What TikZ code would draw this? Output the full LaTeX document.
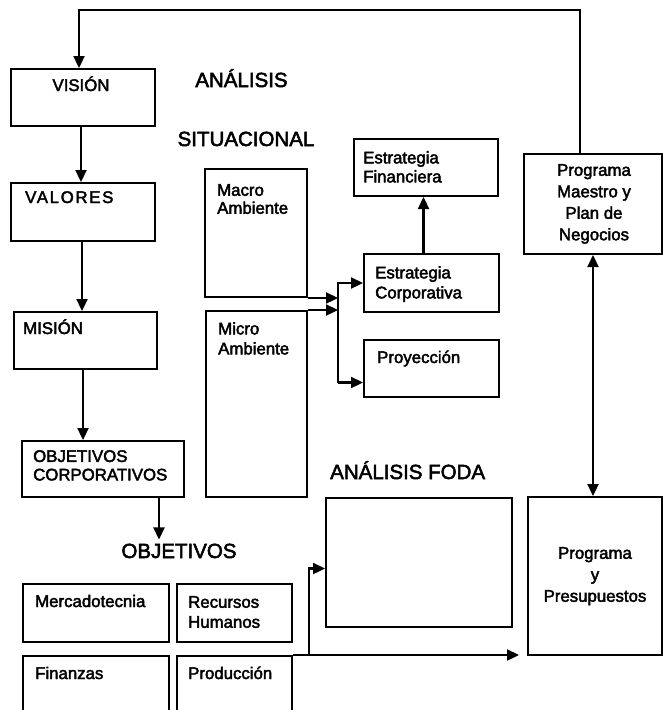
\documentclass[tikz,border=0pt]{standalone}
\usepackage{fontspec}
\setmainfont{Liberation Sans}[FakeBold=2.5]
\usetikzlibrary{arrows.meta,calc}
\begin{document}
\begin{tikzpicture}[x=1pt,y=-1pt,
  box/.style={draw, line width=2pt, rectangle, inner sep=0pt, anchor=north west},
  txt/.style={font=\fontsize{16.8}{19}\selectfont, inner sep=0pt},
  hd/.style={font=\fontsize{20.5}{24}\selectfont, inner sep=0pt},
  arr/.style={line width=2.3pt, -{Triangle[length=12pt,width=11pt]}},
  darr/.style={line width=2.3pt, {Triangle[length=12pt,width=11pt]}-{Triangle[length=12pt,width=11pt]}},
  ln/.style={line width=2.3pt}]
\useasboundingbox (0,0) rectangle (662,710);
% boxes
\node[box, minimum width=144pt, minimum height=57pt] (vision) at (10,68) {};
\node[box, minimum width=144pt, minimum height=58pt] (valores) at (10,182) {};
\node[box, minimum width=143pt, minimum height=57pt] (mision) at (13,311) {};
\node[box, minimum width=162pt, minimum height=56pt] (objcorp) at (21,440) {};
\node[box, minimum width=102pt, minimum height=128pt] (macro) at (204,168) {};
\node[box, minimum width=101pt, minimum height=186pt] (micro) at (205,310) {};
\node[box, minimum width=144pt, minimum height=57pt] (estfin) at (353,138) {};
\node[box, minimum width=135pt, minimum height=58pt] (estcorp) at (363,253) {};
\node[box, minimum width=135pt, minimum height=57pt] (proy) at (363,339) {};
\node[box, minimum width=138pt, minimum height=100pt] (pm) at (523,153) {};
\node[box, minimum width=134pt, minimum height=158pt] (pp) at (527,496) {};
\node[box, minimum width=186pt, minimum height=129pt] (foda) at (325,497) {};
\node[box, minimum width=146pt, minimum height=58pt] (merc) at (22,583) {};
\node[box, minimum width=115pt, minimum height=58pt] (rrhh) at (176,583) {};
\node[box, minimum width=146pt, minimum height=70pt] (fin) at (22,655) {};
\node[box, minimum width=115pt, minimum height=70pt] (prod) at (176,655) {};
% texts
\node[txt, anchor=base] (tvision) at (81,91) {VISIÓN};
\node[txt, anchor=base west] (tvalores) at (25,203) {\addfontfeature{LetterSpace=10}VALORES};
\node[txt, anchor=base west] (tmision) at (23,334) {MISIÓN};
\node[txt, anchor=north west, align=left, font=\fontsize{16.8}{18.5}\selectfont] (tobjc) at (33,450) {OBJETIVOS\\CORPORATIVOS};
\node[txt, anchor=north west, align=left, font=\fontsize{16.8}{18}\selectfont] (tmacro) at (217,184) {Macro\\Ambiente};
\node[txt, anchor=north west, align=left, font=\fontsize{16.8}{20}\selectfont] (tmicro) at (218,322) {Micro\\Ambiente};
\node[txt, anchor=north west, align=left, font=\fontsize{16.8}{19}\selectfont] (testfin) at (363,151) {Estrategia\\Financiera};
\node[txt, anchor=north west, align=left, font=\fontsize{16.8}{20}\selectfont] (testcorp) at (375,266) {Estrategia\\Corporativa};
\node[txt, anchor=base west] (tproy) at (377,363) {Proyección};
\node[txt, anchor=north, align=center, font=\fontsize{16.8}{21.5}\selectfont] (tpm) at (594,164) {Programa\\Maestro y\\Plan de\\Negocios};
\node[txt, anchor=north, align=center, font=\fontsize{16.8}{21.5}\selectfont] (tpp) at (595,547) {Programa\\y\\Presupuestos};
\node[txt, anchor=base west] (tmerc) at (35,607) {Mercadotecnia};
\node[txt, anchor=north west, align=left, font=\fontsize{16.8}{20}\selectfont] (trrhh) at (188,596) {Recursos\\Humanos};
\node[txt, anchor=base west] (tfin) at (35,679) {Finanzas};
\node[txt, anchor=base west] (tprod) at (188,679) {Producción};
% headings
\node[hd, anchor=base] (hanal) at (241.5,87) {ANÁLISIS};
\node[hd, anchor=base] (hsit) at (246,146) {SITUACIONAL};
\node[hd, anchor=base] (hobj) at (179,558) {OBJETIVOS};
\node[hd, anchor=base west] (hfoda) at (330,479) {ANÁLISIS FODA};
% coordinates
\coordinate (top) at (0,10);
\coordinate (j) at (338,283);
\coordinate (pin) at ([yshift=-14pt]proy.west);
\coordinate (b) at (309,655);
% connectors
\draw[arr] ([xshift=-2pt]vision.south) -- ([xshift=-2pt]vision.south |- valores.north);
\draw[arr] ([xshift=-1pt]valores.south) -- ([xshift=-1pt]valores.south |- mision.north);
\draw[arr] ([xshift=-2.5pt]mision.south) -- ([xshift=-2.5pt]mision.south |- objcorp.north);
\draw[arr, shorten >=4pt] ([xshift=-26pt]objcorp.south east) -- ([xshift=-26pt]objcorp.south east |- hobj.north);
\draw[arr] ([xshift=57pt]pm.north west) -- ([xshift=57pt]pm.north west |- top) -| ([xshift=-4pt]vision.north);
\draw[arr] (macro.south east) -- (macro.south east -| j);
\draw[arr] (micro.north east) -- (micro.north east -| j);
\draw[arr] (pin -| j) |- (estcorp.west);
\draw[arr] (pin -| j) -- (pin);
\draw[arr] ([xshift=-8pt]estcorp.north) -- ([xshift=-8pt]estcorp.north |- estfin.south);
\draw[darr] (pm.south) -- (pm.south |- pp.north);
\draw[arr, shorten >=8pt] (prod.north east) -- (prod.north east -| pp.west);
\draw[arr] (b) |- ([yshift=-6pt]foda.west);
\end{tikzpicture}
\end{document}
